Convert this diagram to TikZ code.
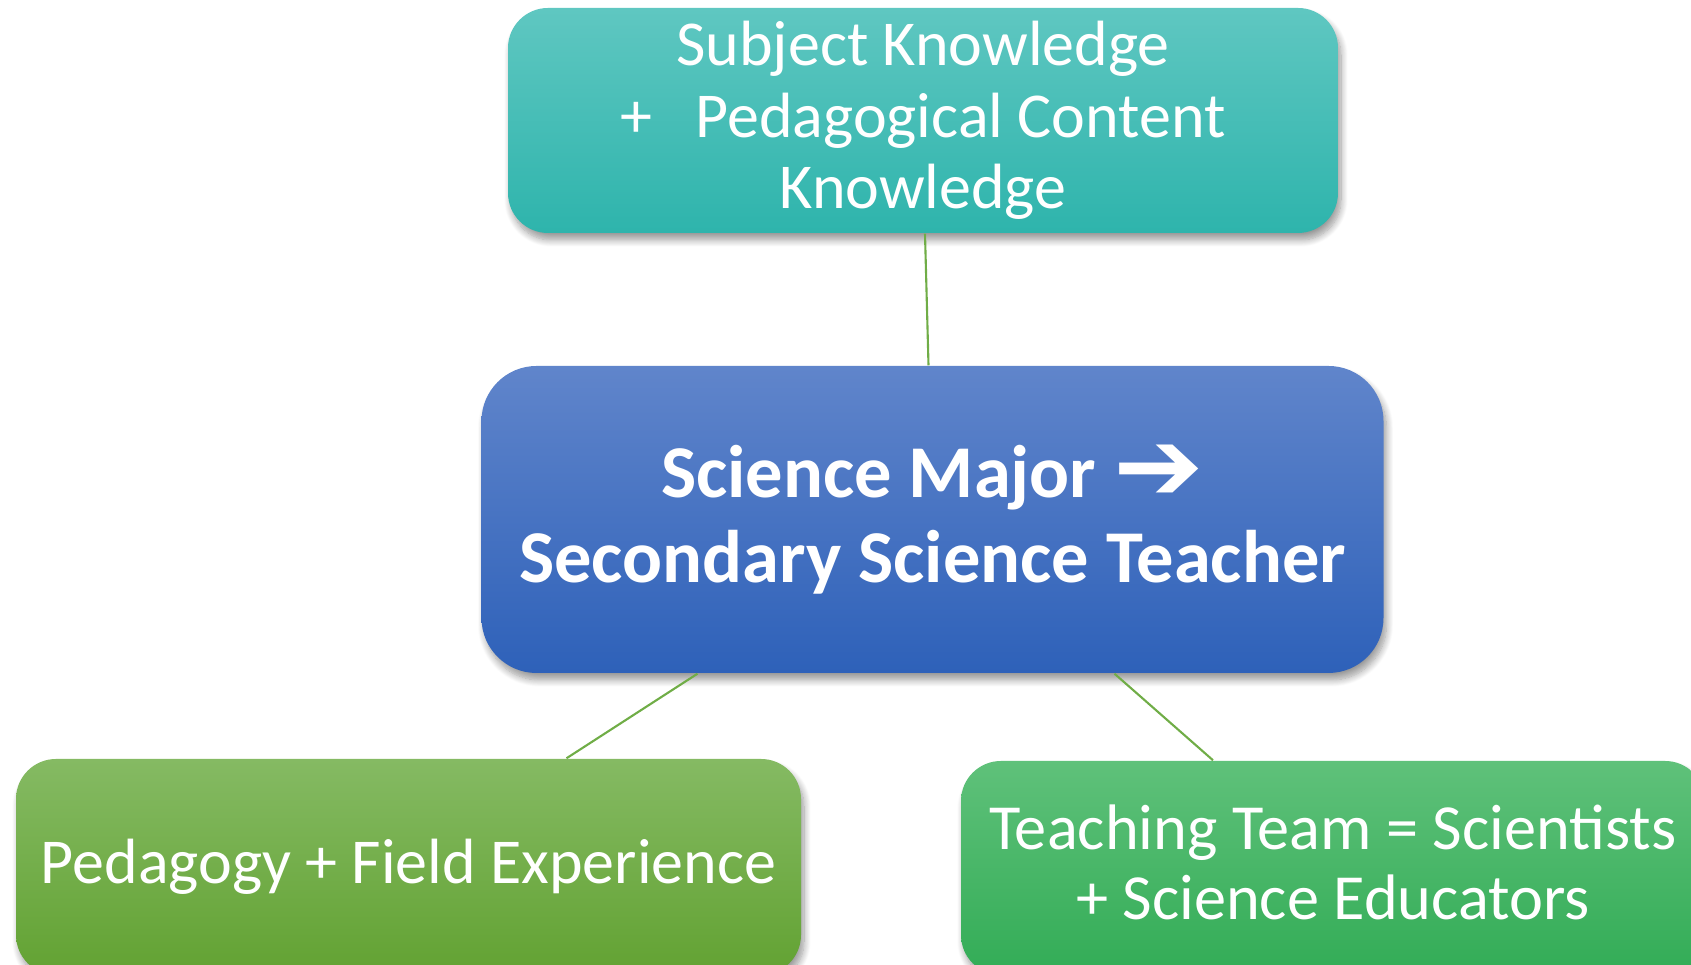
\documentclass[tikz,border=0pt]{standalone}
\usepackage{fontspec}
\setmainfont{Carlito}
\newfontfamily\arrowfont{DejaVu Sans}
\usetikzlibrary{calc, positioning, shadows, shadows.blur}
\definecolor{tealtop}{HTML}{5FC7C1}
\definecolor{tealbot}{HTML}{2EB4AC}
\definecolor{bluetop}{HTML}{6085CB}
\definecolor{bluebot}{HTML}{2E61B9}
\definecolor{olivetop}{HTML}{85BA63}
\definecolor{olivebot}{HTML}{62A232}
\definecolor{greentop}{HTML}{5FC17A}
\definecolor{greenbot}{HTML}{32AC56}
\definecolor{linkgreen}{HTML}{70AD47}
\tikzset{
    box/.style={rounded corners=0.4cm, text=white, align=center, inner sep=0pt,
        blur shadow={shadow xshift=0.03cm, shadow yshift=-0.07cm, shadow blur steps=10, shadow opacity=40}},
    link/.style={draw=linkgreen, line width=0.6pt}
}
\begin{document}
\begin{tikzpicture}
    \useasboundingbox (0,0) rectangle (16.91,9.65);
    \node[box, top color=tealtop, bottom color=tealbot, minimum width=8.30cm, minimum height=2.25cm,
        font=\fontsize{18.2}{20.4}\selectfont] (know) at (9.23,8.445)
        {Subject Knowledge\\ +\ \ \ Pedagogical Content\\ Knowledge};
    \node[box, rounded corners=0.55cm, top color=bluetop, bottom color=bluebot, minimum width=9.02cm, minimum height=3.07cm,
        font=\bfseries\fontsize{21.2}{24.2}\selectfont] (major) at (9.325,4.455)
        {Science Major {\arrowfont\bfseries\raisebox{-0.05em}{\scalebox{1.45}[1.35]{➔}}}\\ Secondary Science Teacher};
    \node[box, top color=olivetop, bottom color=olivebot, minimum width=7.85cm, minimum height=2.16cm,
        font=\fontsize{18.2}{19.9}\selectfont] (field) at (4.085,0.98)
        {Pedagogy + Field Experience};
    \node[box, top color=greentop, bottom color=greenbot, minimum width=7.44cm, minimum height=2.14cm, text depth=0.12cm,
        font=\fontsize{18.3}{19.9}\selectfont] (team) at (13.33,0.97)
        {Teaching Team = Scientists\\ + Science Educators};
    \draw[link] ($(know.south)+(0.02,0)$) -- ($(major.north)+(-0.04,0)$);
    \draw[link] ($(major.south)+(-2.35,0)$) -- ($(field.north)+(1.58,0)$);
    \draw[link] ($(major.south)+(1.82,0)$) -- ($(team.north)+(-1.20,0)$);
\end{tikzpicture}
\end{document}
